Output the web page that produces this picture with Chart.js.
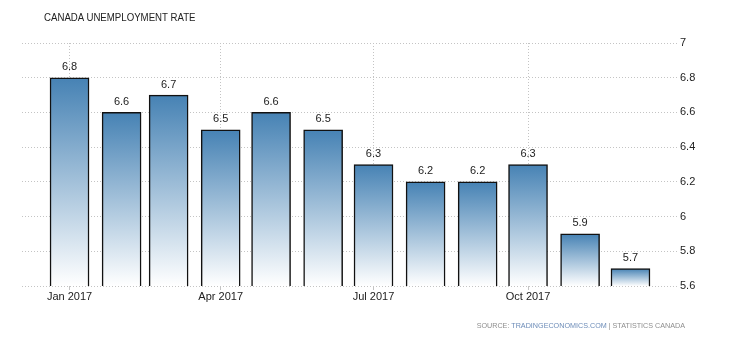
<!DOCTYPE html>
<html>
<head>
<meta charset="utf-8">
<style>
  body { margin: 0; background: #fff; }
  #wrap { position: relative; width: 730px; height: 340px; }
  #title { position: absolute; left: 44px; top: 11px; font: 11.5px "Liberation Sans", Arial, sans-serif; color: #222; white-space: nowrap; transform: scaleX(0.84); transform-origin: left top; }
  #source { position: absolute; right: 45px; top: 321px; font: 7.2px "Liberation Sans", Arial, sans-serif; color: #8e8e8e; white-space: nowrap; }
  #source .link { color: #6c8cb8; }
</style>
</head>
<body>
<div id="wrap">
  <canvas id="myChart" width="730" height="340"></canvas>
  <div id="title">CANADA UNEMPLOYMENT RATE</div>
  <div id="source">SOURCE: <span class="link">TRADINGECONOMICS.COM</span> | STATISTICS CANADA</div>
</div>
<script src="https://cdn.jsdelivr.net/npm/chart.js"></script>
<script>
  var months = ["2017-01-01", "2017-02-01", "2017-03-01", "2017-04-01", "2017-05-01", "2017-06-01",
    "2017-07-01", "2017-08-01", "2017-09-01", "2017-10-01", "2017-11-01", "2017-12-01"];
  var rates = [6.8, 6.6, 6.7, 6.5, 6.6, 6.5, 6.3, 6.2, 6.2, 6.3, 5.9, 5.7];
  var tickDates = ["2017-01-01", "2017-04-01", "2017-07-01", "2017-10-01"];
  var tickLabels = ["Jan 2017", "Apr 2017", "Jul 2017", "Oct 2017"];

  // days since Jan 1 2017, so months get their real widths like a time axis
  function dayOf(s) {
    return (Date.parse(s + "T00:00:00Z") - Date.parse("2017-01-01T00:00:00Z")) / 864e5;
  }
  var points = months.map((m, i) => ({ x: dayOf(m), y: rates[i] }));
  var tickDays = tickDates.map(dayOf);

  const valueLabels = {
    id: "valueLabels",
    afterDatasetsDraw: (chart) => {
      const { ctx } = chart;
      ctx.save();
      ctx.font = "11px 'Liberation Sans', Arial, sans-serif";
      ctx.fillStyle = "#222";
      ctx.textAlign = "center";
      ctx.textBaseline = "bottom";
      chart.getDatasetMeta(0).data.forEach((bar, i) => {
        ctx.fillText(rates[i].toFixed(1), bar.x, bar.y - 5);
      });
      ctx.restore();
    },
  };

  const ctx = document.getElementById("myChart");
  new Chart(ctx, {
    type: "bar",
    data: {
      datasets: [
        {
          data: points,
          barThickness: 39,
          borderColor: "#111",
          borderWidth: 1.5,
          borderSkipped: false,
          backgroundColor: (c) => {
            const chart = c.chart;
            const area = chart.chartArea;
            if (!area || c.parsed === undefined) return "#4682b4";
            const top = chart.scales.y.getPixelForValue(c.parsed.y);
            const g = chart.ctx.createLinearGradient(0, top, 0, area.bottom);
            g.addColorStop(0, "#4682b4");
            g.addColorStop(1, "#ffffff");
            return g;
          },
        },
      ],
    },
    options: {
      responsive: false,
      animation: false,
      layout: { padding: { left: 22, top: 43, right: 0, bottom: 0 } },
      plugins: { legend: { display: false }, tooltip: { enabled: false } },
      scales: {
        x: {
          type: "linear",
          min: -28.3,
          max: 361.7,
          offset: false,
          afterBuildTicks: (axis) => {
            axis.ticks = tickDays.map((v) => ({ value: v }));
          },
          afterFit: (axis) => { axis.height = 54; },
          ticks: {
            autoSkip: false,
            maxRotation: 0,
            padding: 0,
            color: "#222",
            font: { family: "'Liberation Sans', Arial, sans-serif", size: 11 },
            callback: (v) => tickLabels[tickDays.indexOf(v)],
          },
          grid: {
            offset: false,
            color: "#c4c4c4",
            tickLength: 4,
            tickBorderDash: [],
            tickColor: "#c4c4c4",
          },
          border: { display: false, dash: [1, 2] },
        },
        y: {
          position: "right",
          min: 5.6,
          max: 7,
          afterFit: (axis) => { axis.width = 53; },
          ticks: {
            stepSize: 0.2,
            padding: 3,
            color: "#222",
            font: { family: "'Liberation Sans', Arial, sans-serif", size: 11 },
            callback: (v) => +v.toFixed(1),
          },
          grid: { color: "#c4c4c4", drawTicks: false },
          border: { display: false, dash: [1, 2] },
        },
      },
    },
    plugins: [valueLabels],
  });
</script>
</body>
</html>
